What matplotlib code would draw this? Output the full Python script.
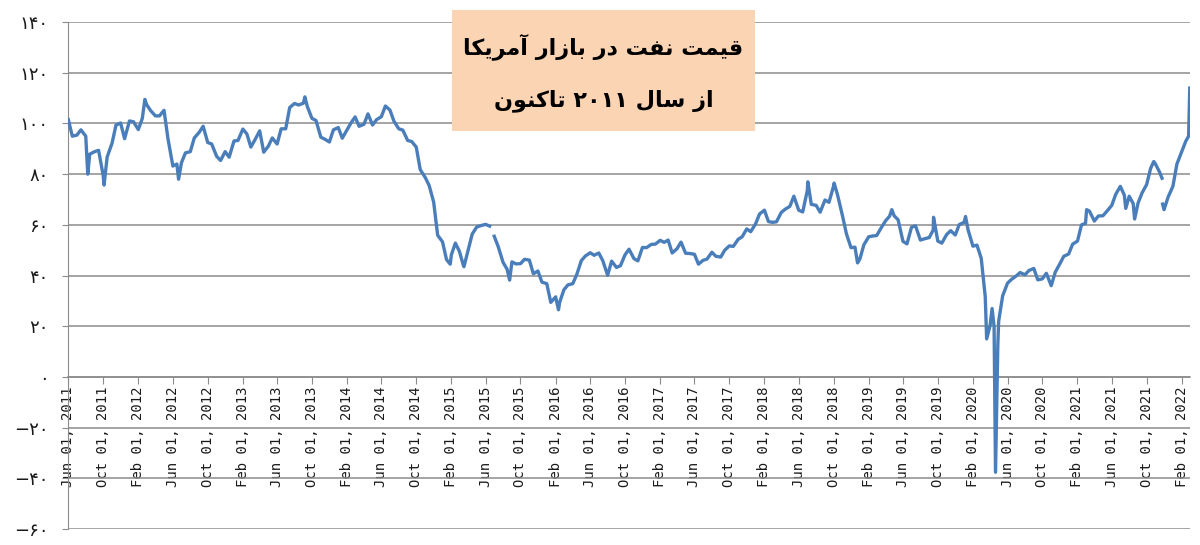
import re
import matplotlib
matplotlib.use("Agg")
import matplotlib.pyplot as plt
import matplotlib.dates as mdates
from matplotlib.ticker import FuncFormatter
import numpy as np
import pandas as pd

# قیمت روزانه نفت آمریکا - نمونه های نیم ماهه (1 و 15 هر ماه) خوانده شده از تصویر
price_2011 = [101.5, 95.0, 95.4, 97.5, 95.0, 87.9, 88.9, 89.4, 79.5, 86.8, 92.2, 99.4, 100.2, 94.0]
price_2012 = [101.0, 100.7, 97.6, 102.0, 107.5, 105.1, 103.0, 103.0, 105.2, 93.9, 83.2, 84.0,
              84.5, 88.4, 88.9, 94.3, 96.5, 98.9, 92.5, 91.9, 87.1, 85.4, 88.9, 86.7]
price_2013 = [93.1, 93.3, 97.8, 95.9, 90.7, 93.5, 97.1, 88.7, 91.0, 94.3, 91.9, 97.9,
              97.9, 106.3, 107.9, 107.3, 108.0, 106.6, 102.0, 101.2, 94.6, 93.8, 92.7, 97.5]
price_2014 = [98.4, 94.2, 97.5, 100.3, 102.6, 98.9, 99.7, 103.8, 99.4, 101.5, 102.7, 106.9,
              105.3, 100.9, 97.9, 97.4, 93.3, 92.9, 90.7, 81.8, 78.8, 75.6, 69.0, 55.9]
price_2015 = [53.3, 46.3, 48.2, 52.8, 49.6, 44.0, 50.1, 56.4, 59.2, 59.7, 60.2, 59.5,
              55.5, 51.4, 45.2, 42.5, 45.4, 44.6, 44.7, 46.4, 46.1, 40.7, 41.8, 37.4]
price_2016 = [36.8, 29.4, 31.6, 29.4, 34.4, 36.3, 36.8, 40.4, 45.9, 47.7, 49.0, 48.0,
              48.9, 45.9, 40.1, 45.7, 43.2, 43.9, 48.2, 50.4, 46.7, 45.8, 51.1, 51.0]
price_2017 = [52.3, 52.4, 53.9, 53.1, 54.0, 48.9, 50.6, 53.2, 48.8, 48.7, 48.4, 44.5,
              46.0, 46.5, 49.2, 47.6, 47.3, 50.0, 51.7, 51.5, 54.3, 55.3, 58.4, 57.3]
price_2018 = [60.4, 64.3, 65.8, 61.3, 61.0, 61.2, 64.9, 66.2, 67.3, 71.3, 65.8, 65.1,
              73.5, 68.1, 67.7, 65.0, 69.8, 68.9, 75.3, 71.8, 63.7, 56.5, 51.0, 51.2]
price_2019 = [46.5, 52.1, 55.3, 55.6, 55.8, 58.5, 61.6, 63.4, 63.6, 62.0, 53.5, 52.5,
              59.1, 59.6, 54.0, 54.5, 55.0, 58.0, 53.6, 52.8, 56.2, 57.7, 56.0, 60.1]
price_2020 = [61.0, 58.0, 51.6, 52.0, 46.8, 31.7, 20.3, 19.9, 22.0, 32.0, 37.0, 38.5,
              39.8, 41.2, 40.3, 42.0, 42.8, 38.3, 38.7, 40.9, 36.0, 41.3, 44.6, 47.6]
price_2021 = [48.5, 52.4, 53.6, 60.0, 60.6, 65.4, 61.5, 63.5, 63.6, 65.4, 67.7, 72.1,
              75.2, 71.7, 71.3, 68.4, 68.6, 72.6, 75.9, 82.3, 84.0, 80.9, 66.0, 70.9]
price_2022 = [75.2, 84.0, 89.0, 93.0, 114.0]

# نقاط اضافه (قله ها، کف ها و شکاف های خط)
extra_dates = ["2011-08-08", "2011-10-04", "2012-02-24", "2012-06-21", "2013-09-06",
               "2015-01-28", "2015-03-17", "2015-06-25", "2015-08-24", "2016-02-11",
               "2018-07-03", "2018-10-03", "2018-12-24", "2019-04-23", "2019-09-16",
               "2020-01-06", "2020-03-20", "2020-04-08", "2020-04-20", "2020-04-28",
               "2021-03-05", "2021-07-20", "2021-08-20", "2021-10-26", "2021-11-24",
               "2021-11-25", "2021-11-26", "2022-02-25"]
extra_prices = [80.0, 75.7, 109.5, 78.0, 110.5,
                44.5, 43.5, np.nan, 38.2, 26.5,
                77.0, 76.5, 45.0, 66.0, 63.0,
                63.3, 15.0, 27.0, -37.6, 12.3,
                66.0, 66.5, 62.3, 85.0, 78.4,
                np.nan, 68.2, 95.0]

title_line1 = "قیمت نفت در بازار آمریکا"
title_line2 = "از سال ۲۰۱۱ تاکنون"

# شکل های نوشتاری حروف: جدا، پایانی، آغازی، میانی
FA_FORMS = {
    'ا': ('\ufe8d', '\ufe8e', None, None),
    'آ': ('\ufe81', '\ufe82', None, None),
    'ب': ('\ufe8f', '\ufe90', '\ufe91', '\ufe92'),
    'ت': ('\ufe95', '\ufe96', '\ufe97', '\ufe98'),
    'د': ('\ufea9', '\ufeaa', None, None),
    'ر': ('\ufead', '\ufeae', None, None),
    'ز': ('\ufeaf', '\ufeb0', None, None),
    'س': ('\ufeb1', '\ufeb2', '\ufeb3', '\ufeb4'),
    'ف': ('\ufed1', '\ufed2', '\ufed3', '\ufed4'),
    'ق': ('\ufed5', '\ufed6', '\ufed7', '\ufed8'),
    'ک': ('\ufed9', '\ufeda', '\ufedb', '\ufedc'),
    'ل': ('\ufedd', '\ufede', '\ufedf', '\ufee0'),
    'م': ('\ufee1', '\ufee2', '\ufee3', '\ufee4'),
    'ن': ('\ufee5', '\ufee6', '\ufee7', '\ufee8'),
    'و': ('\ufeed', '\ufeee', None, None),
    'ی': ('\ufbfc', '\ufbfd', '\ufef3', '\ufef4'),
}


def shape_fa(text):
    out = []
    for i, ch in enumerate(text):
        forms = FA_FORMS.get(ch)
        if forms is None:
            out.append(ch)
            continue
        prev = FA_FORMS.get(text[i - 1]) if i > 0 else None
        nxt = text[i + 1] if i + 1 < len(text) else ''
        join_prev = prev is not None and prev[2] is not None
        join_next = forms[2] is not None and nxt in FA_FORMS
        idx = {(False, False): 0, (True, False): 1, (False, True): 2, (True, True): 3}[(join_prev, join_next)]
        out.append(forms[idx])
    visual = ''.join(out)[::-1]
    return re.sub('[۰-۹]+', lambda m: m.group(0)[::-1], visual)


FA_DIGITS = str.maketrans('0123456789-', '۰۱۲۳۴۵۶۷۸۹−')

grid_dates = pd.date_range("2011-06-01", "2022-03-01", freq="SMS")
grid_prices = (price_2011 + price_2012 + price_2013 + price_2014 + price_2015 + price_2016 +
               price_2017 + price_2018 + price_2019 + price_2020 + price_2021 + price_2022)
assert len(grid_prices) == len(grid_dates)

series = pd.concat([pd.Series(grid_prices, index=grid_dates),
                    pd.Series(extra_prices, index=pd.to_datetime(extra_dates))]).sort_index()

fig = plt.figure(figsize=(12, 5.45), dpi=100)
ax = fig.add_axes([0.0567, 0.0294, 0.935, 0.930])

ax.plot(series.index, series.values, color='#4a7ebb', lw=2.4, solid_joinstyle='round', zorder=3)

ax.set_ylim(-60, 140)
ax.set_yticks(np.arange(-60, 141, 20))
ax.set_xlim(pd.Timestamp("2011-05-31"), pd.Timestamp("2022-03-02"))
ax.grid(axis='y', color='#8c8c8c', lw=1.1)
ax.set_axisbelow(True)

for side in ['top', 'right']:
    ax.spines[side].set_visible(False)
ax.spines['left'].set_color('#8c8c8c')
ax.spines['bottom'].set_position(('data', 0))
ax.spines['bottom'].set_color('#8c8c8c')
ax.spines['bottom'].set_linewidth(1.1)

tick_dates = pd.date_range("2011-06-01", "2022-02-01", freq="4MS")
ax.set_xticks(tick_dates)
ax.xaxis.set_major_formatter(mdates.DateFormatter("%b %d, %Y"))
ax.tick_params(axis='x', direction='out', length=5, color='#8c8c8c', pad=2,
               labelrotation=90, labelsize=10, labelcolor='#1a1a1a')
for lab in ax.get_xticklabels():
    lab.set_fontfamily('DejaVu Sans Mono')

ax.yaxis.set_major_formatter(FuncFormatter(lambda v, p: f"{int(v)}".translate(FA_DIGITS)))
ax.tick_params(axis='y', direction='out', length=4, color='#8c8c8c', pad=10,
               labelsize=13, labelcolor='#1a1a1a')

# کادر عنوان
fig.patches.append(plt.Rectangle((0.3767, 0.7596), 0.2525, 0.222, transform=fig.transFigure,
                                 facecolor='#fbd4b4', edgecolor='none', zorder=5))
fig.text(0.5029, 0.915, shape_fa(title_line1), ha='center', va='center', fontsize=16,
         fontweight='bold', family='DejaVu Sans', zorder=6)
fig.text(0.5029, 0.815, shape_fa(title_line2), ha='center', va='center', fontsize=16,
         fontweight='bold', family='DejaVu Sans', zorder=6)

fig.savefig("out.png", dpi=100)
